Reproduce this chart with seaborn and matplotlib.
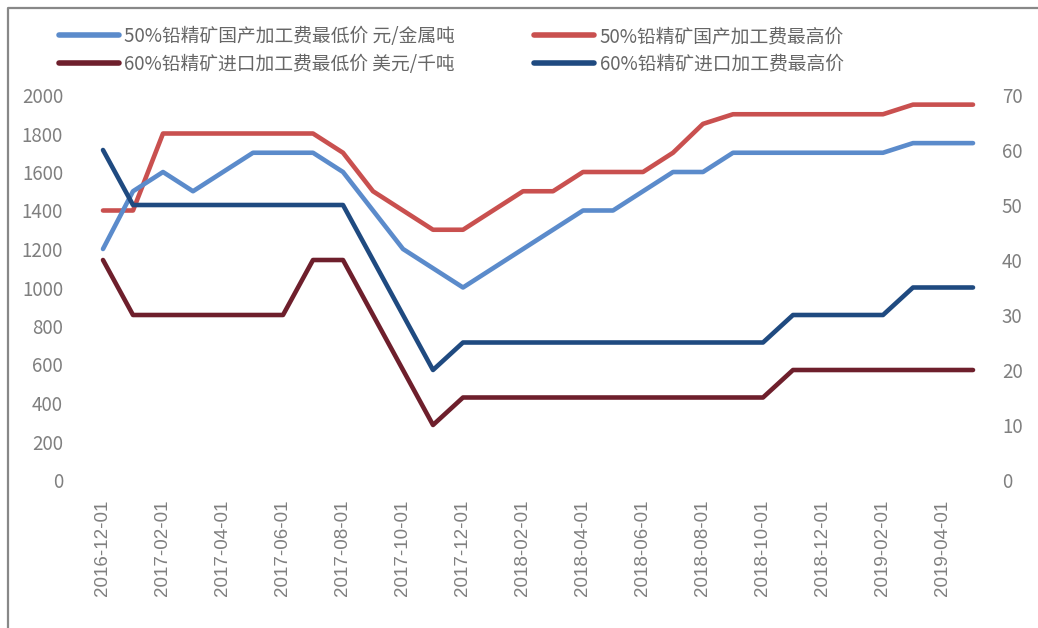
import matplotlib
matplotlib.use('Agg')
import matplotlib.pyplot as plt
from matplotlib.lines import Line2D
import seaborn as sns
import pandas as pd

sns.set_style('white')
plt.rcParams['font.family'] = ['Noto Sans CJK SC', 'DejaVu Sans']

months = ['2016-12-01', '2017-01-01', '2017-02-01', '2017-03-01', '2017-04-01', '2017-05-01',
          '2017-06-01', '2017-07-01', '2017-08-01', '2017-09-01', '2017-10-01', '2017-11-01',
          '2017-12-01', '2018-01-01', '2018-02-01', '2018-03-01', '2018-04-01', '2018-05-01',
          '2018-06-01', '2018-07-01', '2018-08-01', '2018-09-01', '2018-10-01', '2018-11-01',
          '2018-12-01', '2019-01-01', '2019-02-01', '2019-03-01', '2019-04-01', '2019-05-01']
# left axis, yuan / metal ton
dom_low = [1200, 1500, 1600, 1500, 1600, 1700, 1700, 1700, 1600, 1400, 1200, 1100, 1000, 1100, 1200,
           1300, 1400, 1400, 1500, 1600, 1600, 1700, 1700, 1700, 1700, 1700, 1700, 1750, 1750, 1750]
dom_high = [1400, 1400, 1800, 1800, 1800, 1800, 1800, 1800, 1700, 1500, 1400, 1300, 1300, 1400, 1500,
            1500, 1600, 1600, 1600, 1700, 1850, 1900, 1900, 1900, 1900, 1900, 1900, 1950, 1950, 1950]
# right axis, usd / dry ton
imp_low = [40, 30, 30, 30, 30, 30, 30, 40, 40, 30, 20, 10, 15, 15, 15,
           15, 15, 15, 15, 15, 15, 15, 15, 20, 20, 20, 20, 20, 20, 20]
imp_high = [60, 50, 50, 50, 50, 50, 50, 50, 50, 40, 30, 20, 25, 25, 25,
            25, 25, 25, 25, 25, 25, 25, 25, 30, 30, 30, 30, 35, 35, 35]

names = ['50%铅精矿国产加工费最低价 元/金属吨', '60%铅精矿进口加工费最低价 美元/千吨',
         '50%铅精矿国产加工费最高价', '60%铅精矿进口加工费最高价']
colors = ['#5B8BCB', '#6E1F2C', '#C9504F', '#1F4A80']

df = pd.DataFrame({'i': range(len(months)), 'dom_low': dom_low, 'dom_high': dom_high,
                   'imp_low': imp_low, 'imp_high': imp_high})

fig = plt.figure(figsize=(10.38, 6.28), dpi=100)
ax = fig.add_axes([88/1038, 148/628, 900/1038, 385/628])
ax2 = ax.twinx()

lw = 3.3
kw = dict(linewidth=lw, solid_capstyle='round', solid_joinstyle='round')
sns.lineplot(data=df, x='i', y='dom_high', ax=ax, color=colors[2], **kw)
sns.lineplot(data=df, x='i', y='dom_low', ax=ax, color=colors[0], **kw)
sns.lineplot(data=df, x='i', y='imp_high', ax=ax2, color=colors[3], **kw)
sns.lineplot(data=df, x='i', y='imp_low', ax=ax2, color=colors[1], **kw)

ax.set_xlim(-0.5, len(months) - 0.5)
ax.set_ylim(0, 2000)
ax2.set_ylim(0, 70)
ax.set_yticks(range(0, 2001, 200))
ax2.set_yticks(range(0, 71, 10))
ax.set_xticks(range(0, len(months), 2))
ax.set_xticklabels(months[::2], rotation=90, fontsize=11, color='#808080',
                   family=['Liberation Sans', 'DejaVu Sans'])
for a in (ax, ax2):
    a.set_xlabel('')
    a.set_ylabel('')
    for s in a.spines.values():
        s.set_visible(False)
    a.tick_params(length=0, labelsize=13.5, labelcolor='#7f7f7f')
    a.grid(False)
ax.tick_params(axis='y', pad=18)
ax2.tick_params(axis='y', pad=10)
ax.tick_params(axis='x', pad=14)

handles = [Line2D([], [], color=c, linewidth=4, solid_capstyle='round') for c in colors]
fig.legend(handles, names, ncol=2, loc='upper left', bbox_to_anchor=(42/1038, 1 - 9/628),
           frameon=False, fontsize=13.5, handlelength=3.2, handletextpad=0.3,
           columnspacing=4.2, labelspacing=0.37, labelcolor='#666666')

fig.add_artist(Line2D([8/1038, 8/1038, 1], [0, 1 - 8/628, 1 - 8/628],
                      transform=fig.transFigure, color='#888888', linewidth=1.6))

fig.savefig('out.png', dpi=100)
